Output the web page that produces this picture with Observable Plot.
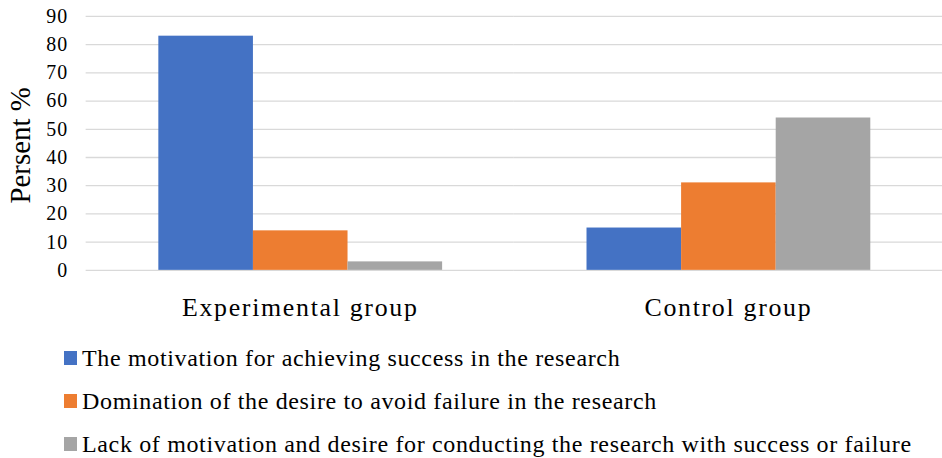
<!DOCTYPE html>
<html>
<head>
<meta charset="utf-8">
<script src="https://cdn.jsdelivr.net/npm/d3@7"></script>
<script src="https://cdn.jsdelivr.net/npm/@observablehq/plot@0.6"></script>
<style>
  body { margin: 0; background: #fff; font-family: 'Liberation Serif', 'DejaVu Serif', serif; overflow: hidden; }
  #chart svg { display: block; }
  #chart [aria-label="fx-axis tick label"] text { letter-spacing: 1.7px; }
  #chart [aria-label="y-axis tick label"] text { letter-spacing: 1px; }
  #legend { margin-left: 64px; }
  .row { height: 43px; display: flex; align-items: center; font-size: 24px; line-height: 26px; letter-spacing: 0.65px; color: #000; white-space: nowrap; font-family: 'Liberation Serif', 'DejaVu Serif', serif; }
  .sw { width: 13px; height: 14px; margin-right: 5px; flex: none; }
</style>
</head>
<body>
<div id="chart"></div>
<div id="legend"></div>
<script>
const groups = ["Experimental group", "Control group"];
const series = [
  "The motivation for achieving success in the research",
  "Domination of the desire to avoid failure in the research",
  "Lack of motivation and desire for conducting the research with success or failure"
];
const colors = ["#4472C4", "#ED7D31", "#A5A5A5"];
const experimentalValues = [83, 14, 3];
const controlValues = [15, 31, 54];
const yTicks = [0, 10, 20, 30, 40, 50, 60, 70, 80, 90];

const data = [];
series.forEach((s, i) => {
  data.push({group: groups[0], series: s, value: experimentalValues[i]});
  data.push({group: groups[1], series: s, value: controlValues[i]});
});

const serif = "'Liberation Serif', 'DejaVu Serif', serif";
const chart = Plot.plot({
  width: 946,
  height: 338,
  marginLeft: 86,
  marginRight: 0,
  marginTop: 16,
  marginBottom: 67,
  style: {fontFamily: serif, color: "#000", background: "#fff"},
  fx: {domain: groups, padding: 0, label: null},
  x: {domain: series, axis: null, paddingInner: 0, paddingOuter: 0.75},
  y: {domain: [0, 90], ticks: yTicks, label: null},
  color: {domain: series, range: colors},
  marks: [
    Plot.gridY(yTicks, {stroke: "#d9d9d9", strokeOpacity: 1, strokeWidth: 1.3}),
    Plot.axisY(yTicks, {tickSize: 0, tickPadding: 18, fontSize: 20, label: null, fontFamily: serif}),
    Plot.axisFx({anchor: "bottom", tickSize: 0, tickPadding: 27, fontSize: 26, label: null, fontFamily: serif}),
    Plot.barY(data, {fx: "group", x: "series", y: "value", fill: "series"}),
    Plot.text(["Persent %"], {frameAnchor: "left", textAnchor: "middle", dx: -66, dy: 2, rotate: -90, fontSize: 29, facetAnchor: "left", fontFamily: serif, text: d => d})
  ]
});
document.getElementById("chart").appendChild(chart);

const legend = document.getElementById("legend");
series.forEach((s, i) => {
  const row = document.createElement("div");
  row.className = "row";
  const sw = document.createElement("span");
  sw.className = "sw";
  sw.style.background = colors[i];
  const t = document.createElement("span");
  t.textContent = s;
  row.appendChild(sw);
  row.appendChild(t);
  legend.appendChild(row);
});
</script>
</body>
</html>
